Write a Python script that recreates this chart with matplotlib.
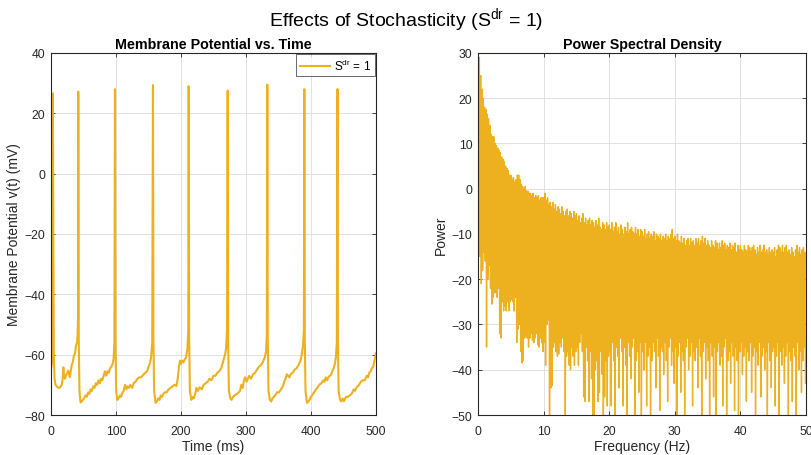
import numpy as np
import matplotlib
matplotlib.use('Agg')
import matplotlib.pyplot as plt

plt.rcParams['font.family'] = ['Liberation Sans', 'DejaVu Sans']
plt.rcParams['mathtext.fontset'] = 'custom'
plt.rcParams['mathtext.rm'] = 'Liberation Sans'
plt.rcParams['mathtext.it'] = 'Liberation Sans:italic'

LINE_COLOR = '#EDB120'
AX_COLOR = '#262626'
GRID_COLOR = '#dcdcdc'

# ---- membrane potential trace (ms, mV) ----
trace_t = [
    0, 1, 2, 2.6, 3, 3.6, 4.3, 5.5, 7, 9, 11, 13, 15, 16.5, 18, 19, 20, 21.5, 23, 25,
    26.6, 28, 29, 30.5, 31.8, 33.5, 35.4, 37, 38.5, 40, 41, 41.6, 42,
    42.7, 43.8, 45.5, 47, 49, 51, 53, 55, 57, 59, 61, 63, 65, 67, 69, 71, 73, 75, 77, 79,
    81, 83, 85, 87, 89, 91, 93, 95, 96.5, 97.6, 98.5,
    99.2, 100.3, 102, 104, 106, 108, 110, 112, 114, 116, 118, 120, 122, 125, 127, 130,
    133, 136, 139, 142, 145, 148, 150, 152, 154, 155.8, 157,
    157.7, 158.8, 161, 163, 165, 167, 169, 171, 173, 175, 178, 181, 184, 187, 190, 193,
    195, 197, 198.5, 200, 202, 204, 206, 208, 210, 211.3, 212,
    212.7, 213.8, 216, 218, 220, 222, 224, 226, 229, 232, 235, 238, 241, 244, 247, 250,
    253, 256, 259, 262, 264, 266, 268, 269.5, 271, 272,
    272.7, 273.8, 276, 278, 280, 283, 286, 289, 291, 293, 295, 297, 299, 301, 303, 305,
    308, 311, 314, 317, 320, 323, 326, 329, 331, 332.3, 333,
    333.7, 334.8, 337, 339, 341, 343, 345, 348, 351, 354, 357, 359, 361, 363, 365, 367,
    369, 372, 375, 378, 381, 384, 386, 388, 389.3, 390,
    390.7, 391.8, 394, 396, 398, 400, 402, 405, 408, 410, 413, 416, 419, 421, 423, 425,
    427, 429, 431, 433, 435, 437, 438.5, 440, 441,
    441.7, 442.8, 445, 447, 449, 451, 454, 457, 460, 463, 466, 468, 470, 472, 474, 477,
    480, 483, 486, 488, 490, 492, 494, 496, 498, 500,
]
trace_v = [
    -64.7, -63.5, -61, -55, 26.6, -20, -60, -68, -70, -70.5, -71, -71, -70.5, -70, -68, -64.2, -66.5, -68, -67, -66,
    -65.3, -66.5, -67.5, -65.5, -63.6, -62.5, -60.3, -59.5, -57, -56, -53.7, -48, 27.2,
    -55, -72, -75.8, -75.5, -75, -74.5, -73.5, -74, -72.5, -73, -71.5, -72, -70.5, -71, -69.5, -70, -68.5, -69.5, -68, -68.5,
    -67, -65.5, -67, -65.5, -66, -64.5, -64, -63, -61, -56, 28,
    -55, -72, -75, -74.5, -73.5, -74, -72.5, -72, -70, -71.5, -70.5, -71, -70, -71, -69.5, -69,
    -68, -67.5, -67.5, -66.7, -66, -65.5, -64, -63, -61, -56, 29.3,
    -55, -72, -76, -75.5, -74.5, -75, -73.5, -74, -73, -72.5, -72.5, -71.5, -71, -70.5, -70, -70.4,
    -68, -64, -62, -63, -62, -62.5, -61.5, -61, -58, -52, 29,
    -55, -72, -75, -74, -74.5, -73, -71, -72, -70.8, -71.5, -70, -69.5, -69, -68, -68.5, -67,
    -67, -66, -65.5, -64.5, -63, -61.5, -60, -58, -52, 27.5,
    -55, -72, -74.5, -75, -74, -73.5, -73, -72.5, -72, -70, -71, -68.5, -67.5, -69, -68, -67,
    -68, -66.5, -66, -65, -64, -63.5, -62.5, -61, -59, -53, 29.5,
    -55, -72, -75, -75.5, -74.5, -74, -73.5, -72.5, -72.5, -71.5, -70.5, -69, -68, -66.5, -67, -67.5,
    -66.5, -66, -65, -64.5, -63.5, -62, -60, -57, -52, 28,
    -55, -72, -76, -75.5, -75, -74, -73.5, -72.5, -71.5, -71, -70, -69.5, -68.5, -69, -67.5, -68.5,
    -67.5, -67, -66.8, -65.5, -64.5, -63, -61, -56, 28,
    -55, -72, -75, -75.5, -74.5, -75.4, -74, -74, -73.5, -72.9, -71.5, -72, -71, -70.5, -70.1, -69,
    -68.5, -68.5, -67, -67.5, -66, -65.5, -64.5, -64, -62, -59.6,
]

# ---- power spectral density: local maxima and minima ----
psd_bin_hz = 0.1  # spacing of the spectrum bins
psd_peaks = [  # at 0, 0.2, 0.4, ... Hz (one row = 5 Hz)
    30, 29, 25, 22, 20, 18, 17.5, 16.5, 15.5, 14, 12, 11.5, 11.5, 10, 9.5, 9, 8.5, 8, 7, 6.5, 6, 5, 4.5, 4, 3,
    3, 2, 2.5, 1.5, 2, 3, 3, 2, 1, 0.5, 0, 0.5, -0.5, -0.5, -1, -1, -1.5, -1, -2, -1.5, -2, -1.5, -2.5, -2, -2,
    -2, -1, -2.5, -2, -3.5, -3, -4, -3, -4.5, -3.5, -5, -4, -4.5, -5.5, -4, -5, -6, -5, -4.5, -6, -5, -5.5, -6.5, -5, -6,
    -5.5, -7, -6, -7.5, -6.5, -5.5, -7.5, -6.5, -8, -7, -6.5, -8, -7, -7.5, -8.5, -7, -8, -6.5, -8.5, -9, -7.5, -8, -9, -7.5, -8.5,
    -8, -9, -7.5, -9.5, -8.5, -7.5, -9.5, -8.5, -10, -8, -9, -10, -8.5, -9.5, -7.5, -10, -9, -8.5, -9.5, -10, -8.5, -10, -9, -10.5, -9,
    -9.5, -10.5, -9, -11, -10, -9.5, -11, -10, -10.5, -9.5, -11.5, -10, -10.5, -11, -10, -11.5, -10.5, -11, -10, -11.5, -10.5, -11, -10, -9, -11,
    -10.5, -11.5, -10, -11.5, -12, -10.5, -12, -11, -12.5, -11.5, -11, -12.5, -11, -12, -11.5, -12.5, -11, -12, -11, -12.5, -11.5, -10.5, -12, -11, -12.5,
    -11.5, -12.5, -13, -11.5, -12.5, -13, -11.5, -12, -13.5, -12, -13, -11.5, -12.5, -12, -13.5, -12.5, -13, -12, -13.5, -12.5, -13, -12, -14, -12.5, -13.5,
    -12.5, -13.5, -14, -12.5, -13.5, -14, -12.5, -13, -14, -13, -12.5, -13.5, -14.5, -13, -14, -12.5, -14, -13.5, -12.5, -14, -13.5, -14.5, -13, -14, -13.5,
    -14, -13, -15, -13.5, -12.5, -13, -14, -12.5, -14, -13, -12.5, -14, -13.5, -14.5, -13, -14, -15, -13.5, -12.5, -14, -13, -14.5, -13.5, -13, -14,
]
psd_dips = [  # at 0.1, 0.3, 0.5, ... Hz (one row = 5 Hz)
    -8, -15, -21, -18, -14, -16, -35, -20, -17, -22, -25.5, -24, -23, -23, -24, -22, -32, -33, -25, -27, -26, -27, -25, -27, -25,
    -24.5, -25, -27, -24, -34, -31, -30, -36, -38.5, -38, -33, -32.5, -33, -35, -33, -32, -33.5, -34, -33, -32, -34.5, -35, -33, -34, -36,
    -34, -39, -30, -29, -52, -44, -43.5, -35, -34, -36, -37, -36.5, -34, -35, -33, -36, -52, -37, -36, -39, -40, -35, -37, -39, -36,
    -35, -39, -34, -32, -36, -46, -47, -35, -38, -47, -36, -42, -52, -52, -40, -38, -47, -45, -36, -41, -52, -46, -38, -48, -37,
    -36, -48, -34, -38, -50, -35, -37, -44, -33, -36, -48, -35, -39, -52, -34, -37, -42, -35, -33, -52, -38, -36, -45, -34, -52,
    -36, -40, -34, -48, -37, -35, -52, -38, -34, -36, -44, -33, -37, -49, -35, -36, -41, -34, -38, -47, -35, -33, -39, -36, -43,
    -35, -52, -37, -34, -45, -36, -38, -52, -35, -33, -40, -37, -34, -48, -36, -38, -35, -44, -33, -37, -52, -36, -34, -42, -35,
    -38, -52, -34, -37, -46, -35, -52, -36, -34, -39, -37, -48, -35, -33, -52, -38, -36, -43, -34, -37, -49, -35, -38, -52, -36,
    -34, -41, -37, -35, -47, -36, -38, -34, -45, -37, -35, -52, -36, -39, -34, -46, -37, -35, -40, -36, -52, -34, -38, -44, -36,
    -35, -48, -37, -34, -52, -36, -39, -35, -43, -37, -34, -52, -36, -38, -47, -35, -37, -52, -34, -40, -36, -45, -38, -35, -43,
]

psd_power = np.empty(len(psd_peaks) + len(psd_dips))
psd_power[0::2] = psd_peaks
psd_power[1::2] = psd_dips
psd_freq = np.arange(len(psd_power)) * psd_bin_hz

TICK_FS = 8.7
LABEL_FS = 10
TITLE_FS = 10.3


def style_axes(ax):
    ax.set_facecolor('white')
    for s in ax.spines.values():
        s.set_color(AX_COLOR)
        s.set_linewidth(0.8)
    ax.tick_params(direction='in', top=True, right=True, length=3, width=0.6,
                   colors=AX_COLOR, labelsize=TICK_FS)
    ax.tick_params(axis='x', pad=7.5)
    ax.tick_params(axis='y', pad=4)
    ax.grid(True, color=GRID_COLOR, linewidth=0.6)
    ax.set_axisbelow(True)


fig = plt.figure(figsize=(8.12, 4.56), dpi=100)
fig.patch.set_facecolor('white')

ax1 = fig.add_axes([0.0628, 0.0877, 0.400, 0.794])
style_axes(ax1)
ax1.plot(trace_t, trace_v, color=LINE_COLOR, linewidth=1.5, label=r'S$^{\mathrm{dr}}$ = 1')
ax1.set_xlim(0, 500)
ax1.set_ylim(-80, 40)
ax1.set_xticks(range(0, 501, 100))
ax1.set_yticks(range(-80, 41, 20))
ax1.set_title('Membrane Potential vs. Time', fontsize=TITLE_FS, fontweight='bold', pad=3.5)
ax1.set_xlabel('Time (ms)', fontsize=LABEL_FS, labelpad=1, color=AX_COLOR)
ax1.set_ylabel('Membrane Potential v(t) (mV)', fontsize=LABEL_FS, labelpad=3, color=AX_COLOR)
leg = ax1.legend(loc='upper right', fontsize=8.5, frameon=True, fancybox=False,
                 borderaxespad=0.1, handlelength=2.6, handletextpad=0.3,
                 borderpad=0.3)
leg.get_frame().set_edgecolor(AX_COLOR)
leg.get_frame().set_linewidth(0.6)

ax2 = fig.add_axes([0.5887, 0.0877, 0.404, 0.794])
style_axes(ax2)
ax2.plot(psd_freq, psd_power, color=LINE_COLOR, linewidth=1.0)
ax2.set_xlim(0, 50)
ax2.set_ylim(-50, 30)
ax2.set_xticks(range(0, 51, 10))
ax2.set_yticks(range(-50, 31, 10))
ax2.set_title('Power Spectral Density', fontsize=TITLE_FS, fontweight='bold', pad=3.5)
ax2.set_xlabel('Frequency (Hz)', fontsize=LABEL_FS, labelpad=1, color=AX_COLOR)
ax2.set_ylabel('Power', fontsize=LABEL_FS, labelpad=3, color=AX_COLOR)

fig.text(0.5, 1 - 26 / 456, r'Effects of Stochasticity (S$^{\mathrm{dr}}$ = 1)',
         fontsize=14, ha='center', va='baseline')

fig.savefig('out.png', dpi=100)
